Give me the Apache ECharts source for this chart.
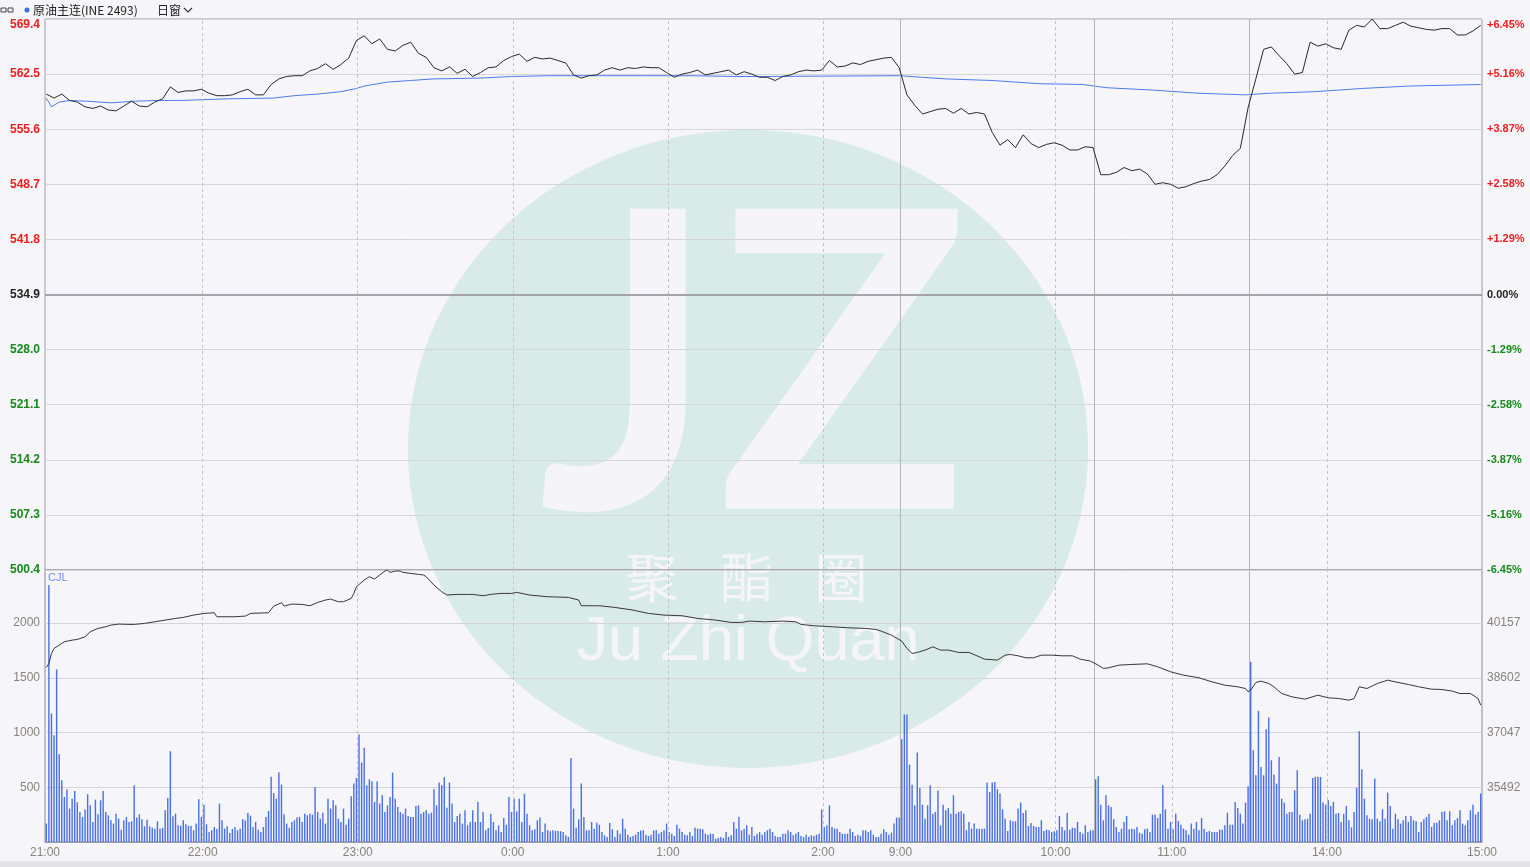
<!DOCTYPE html>
<html>
<head>
<meta charset="UTF-8">
<title>原油主连</title>
<script src="https://cdn.jsdelivr.net/npm/echarts@6/dist/echarts.min.js"></script>
<style>
html, body { margin: 0; padding: 0; background: #f5f5fa; }
#main { width: 1530px; height: 867px; }
</style>
</head>
<body>
<div id="main"></div>
<script type="text/javascript">
// x axis = trading minute index (0 = 21:00 open ... 555 = 15:00)
var prevClose = 534.9;
var priceStep = 3;   // one price every 3 trading minutes
var price = [
    560.0, 559.5, 560.0, 559.2, 559.0, 558.4, 558.2, 558.5, 558.0, 557.9,
    558.5, 559.1, 558.5, 558.4, 559.0, 559.4, 560.9, 560.2, 560.4, 560.4,
    560.6, 560.1, 559.8, 559.8, 559.9, 560.3, 560.6, 559.9, 559.9, 561.2,
    561.9, 562.2, 562.3, 562.3, 562.9, 563.2, 563.8, 563.1, 563.7, 564.5,
    566.7, 567.3, 566.3, 566.9, 565.6, 565.4, 566.1, 566.5, 565.1, 564.6,
    563.3, 562.9, 563.4, 562.6, 563.1, 562.2, 562.7, 563.3, 563.4, 564.2,
    564.7, 565.0, 564.1, 564.6, 564.4, 564.5, 564.2, 563.9, 562.4, 562.0,
    562.3, 562.4, 563.0, 563.3, 563.0, 563.3, 563.2, 563.4, 563.3, 563.3,
    562.7, 562.1, 562.5, 562.7, 563.0, 562.4, 562.6, 562.8, 563.0, 562.4,
    562.8, 562.5, 562.1,
    562.1, 561.7, 562.2, 562.4, 562.8, 563.0, 562.9, 563.0, 564.2, 563.4,
    563.5, 563.9, 563.7, 564.1, 564.3, 564.5, 564.6, 563.3, 559.9, 558.6,
    557.5, 557.8, 558.1, 558.2, 557.6, 558.2, 557.5, 557.7, 557.5, 555.2,
    553.6, 554.3, 553.3, 554.9, 553.8, 553.3, 553.7, 553.9, 553.6, 553.0,
    553.0, 553.4, 553.3, 549.9, 549.9, 550.2, 550.8, 550.4, 550.6, 550.0,
    548.7, 548.9, 548.7, 548.2, 548.4, 548.8, 549.1, 549.3, 549.9, 551.0,
    552.3, 553.2, 558.3, 561.9, 565.6, 565.9, 564.8, 563.8, 562.5, 562.7,
    566.5, 566.0, 566.3, 565.8, 565.6, 568.0, 568.6, 568.4, 569.4, 568.2,
    568.2, 568.6, 569.0, 568.5, 568.3, 568.1, 568.0, 568.2, 568.2, 567.4,
    567.4, 567.9, 568.6
];
var avgTime = [0, 2, 5, 9, 16, 25, 34, 43, 52, 70, 88, 96, 105, 114, 120, 123, 132, 141, 150, 168,
    180, 195, 213, 231, 249, 267, 277, 330, 339, 348, 366, 384, 401, 410, 428, 446, 464, 473, 491, 509, 527, 555];
var avgValue = [559.5, 558.4, 559.0, 559.2, 559.1, 558.9, 559.1, 559.2, 559.2, 559.4,
    559.5, 559.8, 560.0, 560.3, 560.7, 561.0, 561.5, 561.7, 561.9, 562.0,
    562.2, 562.3, 562.3, 562.3, 562.3, 562.2, 562.2, 562.3, 562.1, 561.9,
    561.7, 561.3, 561.2, 560.8, 560.5, 560.1, 559.9, 560.1, 560.3, 560.7, 561.0, 561.2];
var volume = [
    168, 2348, 1174, 976, 1576, 802, 564, 411, 479, 305,
    396, 466, 363, 274, 229, 296, 436, 335, 183, 387,
    253, 381, 466, 274, 244, 198, 168, 259, 213, 113,
    198, 229, 183, 189, 518, 223, 253, 207, 143, 204,
    143, 131, 122, 189, 122, 128, 290, 402, 829, 235,
    259, 152, 149, 198, 162, 149, 146, 107, 168, 390,
    229, 341, 162, 91, 107, 137, 119, 351, 198, 122,
    143, 82, 119, 137, 107, 122, 207, 198, 265, 241,
    137, 183, 113, 91, 137, 229, 284, 595, 448, 396,
    637, 524, 253, 168, 131, 183, 198, 223, 229, 183,
    259, 244, 259, 250, 503, 274, 213, 268, 168, 396,
    305, 381, 335, 213, 183, 305, 158, 213, 418, 534,
    585, 982, 726, 860, 518, 573, 555, 366, 555, 351,
    427, 274, 335, 412, 634, 396, 320, 274, 259, 305,
    238, 229, 229, 329, 335, 259, 274, 290, 259, 268,
    482, 335, 543, 518, 591, 314, 543, 351, 183, 238,
    259, 168, 290, 152, 183, 290, 183, 366, 183, 274,
    107, 128, 259, 183, 107, 152, 91, 219, 158, 412,
    274, 396, 280, 396, 183,
    442, 259, 152, 107, 116, 198, 223, 91, 168, 107,
    98, 107, 101, 101, 98, 91, 61, 46, 768, 305,
    131, 207, 534, 229, 107, 107, 183, 122, 177, 158,
    91, 61, 46, 174, 116, 46, 107, 76, 213, 122,
    67, 46, 55, 67, 91, 104, 107, 67, 55, 67,
    107, 107, 76, 91, 107, 168, 91, 76, 55, 158,
    122, 91, 67, 61, 91, 55, 131, 122, 122, 116,
    76, 67, 76, 76, 30, 37, 46, 37, 91, 46,
    61, 183, 122, 229, 107, 122, 152, 67, 137, 55,
    76, 91, 67, 91, 107, 122, 91, 55, 46, 46,
    76, 76, 107, 91, 61, 76, 91, 55, 46, 67,
    46, 61, 55, 67, 76, 296, 137, 152, 335, 137,
    122, 122, 91, 76, 76, 76, 122, 91, 55, 67,
    55, 107, 107, 91, 107, 67, 46, 46, 76, 116,
    91, 67, 85, 168, 223, 223,
    939, 1165, 1165, 707, 524, 335, 817, 494, 341, 213,
    335, 518, 259, 274, 470, 152, 341, 290, 311, 259,
    427, 259, 274, 280, 259, 107, 183, 122, 168, 122,
    122, 122, 122, 543, 457, 543,
    549, 482, 442, 299, 213, 101, 198, 189, 189, 305,
    360, 265, 290, 146, 174, 146, 137, 137, 198, 101,
    113, 107, 91, 98, 107, 238, 137, 107, 265, 113,
    131, 128, 183, 91, 76, 152, 91, 107, 107,
    573, 600, 341, 198, 427, 335, 320, 207, 137, 91,
    122, 183, 238, 116, 122, 116, 137, 85, 76, 116,
    122, 91, 250, 250, 219, 259, 518, 299, 122, 183,
    116, 259, 192, 158, 122, 107, 67, 168, 122, 183,
    107, 219, 122, 91, 101, 91, 91, 91, 113, 113,
    152, 268, 158, 158, 366, 311, 259, 168, 360, 509,
    1646, 838, 610, 1198, 686, 610, 1031, 1137, 747, 616,
    534, 777, 396, 360, 259, 274, 274, 473, 655, 250,
    198, 207, 213, 259, 585, 595, 595, 595, 360, 341,
    381, 329, 366, 259, 265, 183, 259, 329, 198, 134,
    274, 494, 1012, 665, 396, 244, 213, 207, 579, 213,
    189, 299, 213, 451, 329, 122, 259, 207, 168, 198,
    238, 183, 238, 198, 189, 91, 183, 207, 229, 259,
    137, 177, 177, 198, 274, 280, 198, 280, 152, 198,
    219, 290, 168, 152, 198, 290, 341, 250, 274, 442
];
var oiTime = [0, 1, 2, 3, 5, 7, 10, 12, 15, 17, 20, 23, 25, 28, 32, 34, 38, 42, 46, 50,
    53, 57, 61, 65, 66, 73, 77, 79, 86, 88, 91, 92, 95, 99, 102, 105, 108, 110, 113, 115,
    118, 119, 120, 123, 125, 127, 129, 131, 132, 133, 135, 137, 138, 141, 144, 146, 147, 150, 153, 155,
    159, 163, 165, 169, 172, 176, 180, 182, 187, 194, 202, 206, 207, 214, 220, 227, 233, 239, 246, 252,
    259, 265, 269, 272, 278, 285, 290, 292, 297, 304, 310, 317, 321, 323, 327, 331, 333, 335, 337, 340,
    343, 346, 349, 353, 357, 361, 363, 368, 371, 373, 376, 379, 382, 385, 389, 393, 397, 400, 404, 407,
    409, 411, 415, 420, 426, 430, 435, 440, 446, 451, 456, 461, 464, 465, 466, 468, 470, 473, 475, 478,
    482, 487, 492, 496, 500, 504, 506, 508, 511, 515, 519, 523, 527, 531, 536, 540, 544, 547, 551, 554, 555];
var oiValue = [38896, 39009, 39294, 39436, 39531, 39626, 39673, 39692, 39768, 39910,
    40005, 40052, 40100, 40128, 40119, 40119, 40147, 40194, 40242, 40289,
    40318, 40384, 40431, 40450, 40337, 40337, 40356, 40431, 40450, 40640,
    40735, 40640, 40697, 40687, 40649, 40744, 40811, 40839, 40763, 40763,
    40858, 41000, 41190, 41379, 41474, 41408, 41522, 41635, 41664, 41597,
    41635, 41635, 41597, 41569, 41541, 41522, 41474, 41237, 41048, 40953,
    40972, 40972, 40972, 40934, 40972, 41000, 41000, 41029, 40953, 40905,
    40886, 40811, 40649, 40649, 40602, 40526, 40431, 40384, 40365, 40289,
    40242, 40176, 40176, 40213, 40194, 40213, 40194, 40119, 40081, 40052,
    40024, 40005, 39976, 39929, 39815, 39645, 39436, 39294, 39322, 39389,
    39483, 39389, 39389, 39322, 39322, 39199, 39133, 39104, 39246, 39265,
    39227, 39171, 39171, 39246, 39246, 39227, 39227, 39133, 39076, 38962,
    38867, 38886, 38962, 38981, 39000, 38915, 38772, 38678, 38602, 38488,
    38393, 38346, 38298, 38204, 38251, 38469, 38507, 38441, 38346, 38156,
    38061, 37995, 38109, 38033, 38014, 37967, 38014, 38346, 38298, 38441,
    38535, 38469, 38412, 38346, 38280, 38270, 38223, 38156, 38156, 38014, 37825];

var timeTicks = [-0.5, 60.5, 120.5, 180.5, 240.5, 300.5, 330.5, 390.5, 435.5, 495.5, 555.5];
var timeLabels = ['21:00', '22:00', '23:00', '0:00', '1:00', '2:00', '9:00', '10:00', '11:00', '14:00', '15:00'];
var hourLines = [60.5, 120.5, 180.5, 240.5, 300.5, 390.5, 435.5, 495.5];
var sessionLines = [330.5, 405.5, 465.5];

var priceLow = 500.4, priceHigh = 569.4, priceInterval = 6.9;
var volHigh = 2485, volInterval = 500;
var oiLow = 33937, oiHigh = 41665, oiInterval = 1555;

function pctColor(v) {
    var d = v - prevClose;
    if (d > 0.01) return '#f01c1c';
    if (d < -0.01) return '#16891a';
    return '#222222';
}
function pctText(v) {
    var d = (v - prevClose) / prevClose * 100;
    if (Math.abs(d) < 0.005) return '0.00%';
    return (d > 0 ? '+' : '') + d.toFixed(2) + '%';
}

var priceData = price.map(function (v, i) { return [i * priceStep, v]; });
var avgData = avgTime.map(function (t, i) { return [t, avgValue[i]]; });
var volData = volume.map(function (v, i) { return [i, v]; });
var oiData = oiTime.map(function (t, i) { return [t, oiValue[i]]; });

var vLines = hourLines.map(function (x) {
    return { xAxis: x, lineStyle: { type: [3, 3], color: '#c2c2c8', width: 1 } };
}).concat(sessionLines.map(function (x) {
    return { xAxis: x, lineStyle: { type: 'solid', color: '#b4b4ba', width: 1 } };
}));

var wmFill = '#f5f5f9';
var myChart = echarts.init(document.getElementById('main'));
myChart.setOption({
    animation: false,
    backgroundColor: '#f5f5fa',
    textStyle: { fontFamily: 'Liberation Sans' },
    graphic: [
        // watermark
        { type: 'ellipse', silent: true, z: -10, shape: { cx: 748, cy: 449, rx: 340, ry: 319 }, style: { fill: '#d9ebe6' } },
        { type: 'text', silent: true, z: -9, x: 627, y: 375,
          style: { text: 'J', fontSize: 415, fontWeight: 'bold', fontFamily: 'Lato', fill: wmFill, align: 'center', verticalAlign: 'middle' } },
        { type: 'text', silent: true, z: -9, x: 843, y: 375,
          style: { text: 'Z', fontSize: 415, fontWeight: 'bold', fontFamily: 'Lato', fill: wmFill, align: 'center', verticalAlign: 'middle' } },
        { type: 'text', silent: true, z: -9, x: 652, y: 578,
          style: { text: '聚', fontSize: 53, fontFamily: 'Noto Sans CJK SC', fill: wmFill, align: 'center', verticalAlign: 'middle' } },
        { type: 'text', silent: true, z: -9, x: 747, y: 578,
          style: { text: '酯', fontSize: 53, fontFamily: 'Noto Sans CJK SC', fill: wmFill, align: 'center', verticalAlign: 'middle' } },
        { type: 'text', silent: true, z: -9, x: 841, y: 578,
          style: { text: '圈', fontSize: 53, fontFamily: 'Noto Sans CJK SC', fill: wmFill, align: 'center', verticalAlign: 'middle' } },
        { type: 'text', silent: true, z: -9, x: 748, y: 643,
          style: { text: 'Ju Zhi Quan', fontSize: 63, fontFamily: 'Liberation Sans', fill: wmFill, align: 'center', verticalAlign: 'middle' } },
        // header
        { type: 'rect', silent: true, shape: { x: 1, y: 8, width: 5, height: 4 }, style: { fill: 'none', stroke: '#444', lineWidth: 1 } },
        { type: 'rect', silent: true, shape: { x: 8, y: 8, width: 5, height: 4 }, style: { fill: 'none', stroke: '#444', lineWidth: 1 } },
        { type: 'circle', silent: true, shape: { cx: 27, cy: 10, r: 2.5 }, style: { fill: '#3d6fd6' } },
        { type: 'text', silent: true, x: 33, y: 10,
          style: { text: '原油主连(INE 2493)', fontSize: 12, fontFamily: 'Noto Sans CJK SC', fill: '#222', verticalAlign: 'middle' } },
        { type: 'text', silent: true, x: 157, y: 10,
          style: { text: '日窗', fontSize: 12, fontFamily: 'Noto Sans CJK SC', fill: '#222', verticalAlign: 'middle' } },
        { type: 'polyline', silent: true, shape: { points: [[184, 8], [188, 12], [192, 8]] }, style: { stroke: '#333', lineWidth: 1.2, fill: 'none' } },
        { type: 'text', silent: true, x: 48, y: 578,
          style: { text: 'CJL', fontSize: 11, fontFamily: 'Liberation Sans', fill: '#6f8ff0', verticalAlign: 'middle' } },
        { type: 'rect', silent: true, shape: { x: 0, y: 861, width: 1530, height: 6 }, style: { fill: '#e3e3e8' } }
    ],
    grid: [
        { left: 45, right: 48, top: 19, height: 551, show: true, borderColor: '#9c9ca2', borderWidth: 1, backgroundColor: 'transparent' },
        { left: 45, right: 48, top: 570, height: 272, show: true, borderColor: '#8c8c92', borderWidth: 1, backgroundColor: 'transparent' }
    ],
    xAxis: [
        { type: 'value', gridIndex: 0, min: -0.5, max: 555.5, show: false },
        { type: 'value', gridIndex: 1, min: -0.5, max: 555.5,
          splitLine: { show: false },
          axisLine: { show: true, lineStyle: { color: '#9c9ca2' } },
          axisTick: { show: false },
          axisLabel: {
              customValues: timeTicks,
              margin: 5, fontSize: 12, color: '#88827a',
              formatter: function (v) {
                  for (var i = 0; i < timeTicks.length; i++) {
                      if (Math.abs(timeTicks[i] - v) < 0.01) return timeLabels[i];
                  }
                  return '';
              }
          } }
    ],
    yAxis: [
        { type: 'value', gridIndex: 0, position: 'left', min: priceLow, max: priceHigh, interval: priceInterval,
          axisLine: { show: false }, axisTick: { show: false },
          splitLine: { lineStyle: { color: '#d4d4da', width: 1 } },
          axisLabel: {
              margin: 5, fontSize: 12, fontWeight: 'bold', verticalAlignMaxLabel: 'top',
              formatter: function (v) { return v.toFixed(1); },
              color: function (v) { return pctColor(parseFloat(v)); }
          } },
        { type: 'value', gridIndex: 0, position: 'right', min: priceLow, max: priceHigh, interval: priceInterval,
          axisLine: { show: false }, axisTick: { show: false }, splitLine: { show: false },
          axisLabel: {
              margin: 5, fontSize: 11, fontWeight: 'bold', verticalAlignMaxLabel: 'top',
              formatter: function (v) { return pctText(v); },
              color: function (v) { return pctColor(parseFloat(v)); }
          } },
        { type: 'value', gridIndex: 1, position: 'left', min: 0, max: volHigh, interval: volInterval,
          axisLine: { show: false }, axisTick: { show: false },
          splitLine: { lineStyle: { color: '#d4d4da', width: 1 } },
          axisLabel: { margin: 5, fontSize: 12, color: '#88827a', showMinLabel: false, showMaxLabel: false,
              formatter: function (v) { return String(Math.round(v)); } } },
        { type: 'value', gridIndex: 1, position: 'right', min: oiLow, max: oiHigh, interval: oiInterval,
          axisLine: { show: false }, axisTick: { show: false }, splitLine: { show: false },
          axisLabel: { margin: 5, fontSize: 12, color: '#88827a', showMinLabel: false, showMaxLabel: false,
              formatter: function (v) { return String(Math.round(v)); } } }
    ],
    series: [
        {
            name: '价格', type: 'line', xAxisIndex: 0, yAxisIndex: 0, data: priceData,
            showSymbol: false, z: 5,
            lineStyle: { color: '#2a2a2a', width: 1 },
            markLine: {
                silent: true, symbol: ['none', 'none'], label: { show: false },
                data: vLines.concat([{ yAxis: prevClose, lineStyle: { type: 'solid', color: '#a4a4aa', width: 2 } }])
            }
        },
        {
            name: '均价', type: 'line', xAxisIndex: 0, yAxisIndex: 0, data: avgData,
            showSymbol: false, z: 4,
            lineStyle: { color: '#4d7ce6', width: 1 }
        },
        {
            name: 'CJL', type: 'bar', xAxisIndex: 1, yAxisIndex: 2, data: volData,
            barWidth: 1.4, itemStyle: { color: '#4a6ee6' },
            markLine: {
                silent: true, symbol: ['none', 'none'], label: { show: false },
                data: vLines
            }
        },
        {
            name: '持仓', type: 'line', xAxisIndex: 1, yAxisIndex: 3, data: oiData,
            showSymbol: false, z: 5,
            lineStyle: { color: '#383838', width: 1 }
        }
    ]
});
</script>
</body>
</html>
